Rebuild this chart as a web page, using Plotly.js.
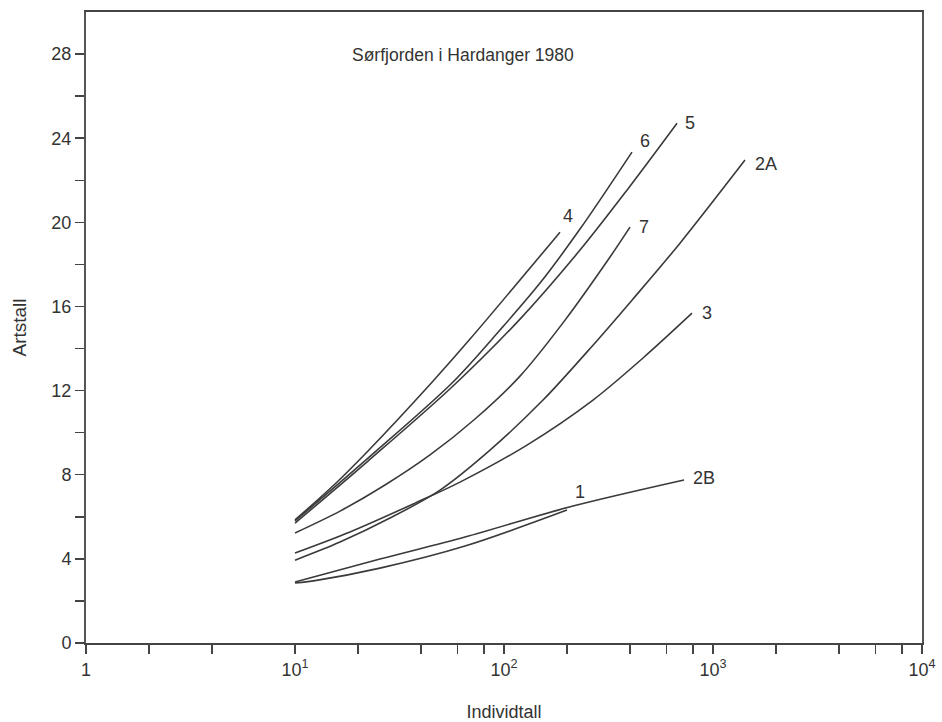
<!DOCTYPE html>
<html>
<head>
<meta charset="utf-8">
<script src="https://cdn.plot.ly/plotly-3.0.1.min.js"></script>
<style>html,body{margin:0;padding:0;background:#fff;}#chart{width:942px;height:722px;}</style>
</head>
<body>
<div id="chart"></div>
<script>
// Series: individual counts (x) and species counts (y)
const seriesNames = ["4", "6", "5", "7", "2A", "3", "2B", "1"];

const x4 = [10, 15.54, 22.35, 45.24, 68.77, 185.3];
const y4 = [5.85, 7.56, 9.13, 12.40, 14.45, 19.53];

const x6 = [10, 22.35, 56.38, 95.7, 148.7, 231.0, 409.6];
const y6 = [5.80, 8.79, 12.36, 14.88, 17.11, 19.68, 23.34];

const x5 = [10, 22.35, 56.38, 119.3, 231.0, 387.7, 672.8];
const y5 = [5.70, 8.65, 12.17, 15.40, 18.68, 21.53, 24.71];

const x7 = [10, 16.42, 26.95, 44.25, 72.65, 119.3, 195.9, 321.6, 400.7];
const y7 = [5.23, 6.27, 7.51, 8.94, 10.65, 12.69, 15.35, 18.35, 19.77];

const x2A = [10, 16.42, 28.48, 49.41, 85.70, 153.7, 266.6, 409.6, 695.3, 1422.6];
const y2A = [3.94, 4.80, 5.94, 7.27, 9.17, 11.55, 14.16, 16.30, 19.01, 22.96];

const x3 = [10, 18.33, 37.52, 61.59, 128.8, 266.6, 462.6, 793.5];
const y3 = [4.28, 5.28, 6.65, 7.65, 9.41, 11.55, 13.55, 15.68];

const x2B = [10, 25.51, 65.08, 213.8, 726.6];
const y2B = [2.90, 3.99, 5.04, 6.51, 7.75];

const x1 = [10, 12.88, 25.51, 65.08, 200.1];
const y1 = [2.85, 2.99, 3.56, 4.61, 6.32];

const xTickVals = [1, 10, 100, 1000, 10000];
const xTickText = ["1", "10<sup>1</sup>", "10<sup>2</sup>", "10<sup>3</sup>", "10<sup>4</sup>"];
const xMinorVals = [2, 4, 20, 40, 60, 80, 200, 400, 600, 800, 2000, 4000, 6000, 8000];
const yTickVals = [0, 4, 8, 12, 16, 20, 24, 28];
const yMinorVals = [2, 6, 10, 14, 18, 22, 26];

const chartTitle = "Sørfjorden i Hardanger 1980";
const xTitle = "Individtall";
const yTitle = "Artstall";

const seriesX = {"4": x4, "6": x6, "5": x5, "7": x7, "2A": x2A, "3": x3, "2B": x2B, "1": x1};
const seriesY = {"4": y4, "6": y6, "5": y5, "7": y7, "2A": y2A, "3": y3, "2B": y2B, "1": y1};

// label offsets (pixels) relative to the curve end
const labelShift = {
  "4": [8, 16], "6": [13, 11], "5": [13, 0], "7": [14, 0],
  "2A": [21, -4], "3": [15, 0], "2B": [20, 2], "1": [13, 18]
};

const ink = "#333333";
const fontFam = "Liberation Sans, Arial, sans-serif";

const traces = seriesNames.map(n => ({
  x: seriesX[n], y: seriesY[n], name: n, type: "scatter", mode: "lines",
  line: {color: "#3a3a3a", width: 1.6, shape: "spline", smoothing: 0.9},
  hoverinfo: "name+x+y"
}));

const annotations = seriesNames.map(n => {
  const xs = seriesX[n], ys = seriesY[n];
  return {
    x: Math.log10(xs[xs.length - 1]), y: ys[ys.length - 1], xref: "x", yref: "y",
    text: n, showarrow: false, xanchor: "center", yanchor: "middle",
    xshift: labelShift[n][0], yshift: labelShift[n][1],
    font: {family: fontFam, size: 18, color: ink}
  };
});
annotations.push({
  x: 0.451, y: 0.932, xref: "paper", yref: "paper", text: chartTitle, showarrow: false,
  xanchor: "center", yanchor: "middle", font: {family: fontFam, size: 17.5, color: ink}
});

const tickStyle = {ticks: "outside", ticklen: 9, tickwidth: 1.5, tickcolor: "#444"};

const layout = {
  width: 942, height: 722,
  margin: {l: 86, r: 20, t: 12, b: 79},
  paper_bgcolor: "#ffffff", plot_bgcolor: "#ffffff",
  showlegend: false,
  font: {family: fontFam, color: ink},
  xaxis: Object.assign({
    type: "log", range: [0, 4], tickmode: "array", tickvals: xTickVals, ticktext: xTickText,
    minor: Object.assign({tickmode: "array", tickvals: xMinorVals, showgrid: false}, tickStyle),
    showline: true, linecolor: "#444", linewidth: 2, mirror: true,
    showgrid: false, zeroline: false,
    tickfont: {family: fontFam, size: 18, color: ink},
    title: {text: xTitle, font: {family: fontFam, size: 18, color: ink}, standoff: 28}
  }, tickStyle),
  yaxis: Object.assign({
    range: [0, 30], tickmode: "array", tickvals: yTickVals,
    minor: Object.assign({tickmode: "array", tickvals: yMinorVals, showgrid: false}, tickStyle),
    showline: true, linecolor: "#555", linewidth: 2, mirror: true,
    showgrid: false, zeroline: false,
    tickfont: {family: fontFam, size: 18, color: ink},
    title: {text: yTitle, font: {family: fontFam, size: 19, color: ink}, standoff: 20}
  }, tickStyle),
  annotations: annotations
};

Plotly.newPlot("chart", traces, layout, {displayModeBar: false, staticPlot: true});
</script>
</body>
</html>
